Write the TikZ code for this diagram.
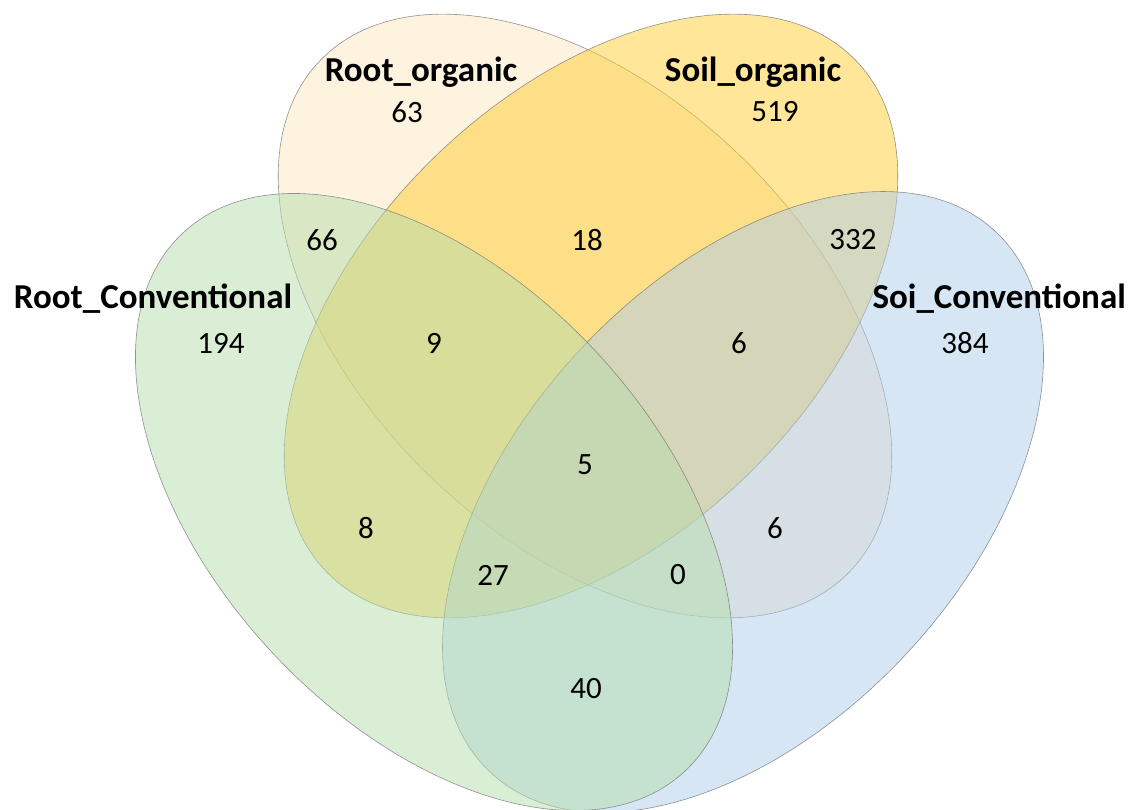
\documentclass[tikz,border=0pt]{standalone}
\usepackage{fontspec}
\setmainfont{Carlito}
\definecolor{peachC}{RGB}{251,231,189}
\definecolor{yellowC}{RGB}{255,205,51}
\definecolor{greenC}{RGB}{181,221,171}
\definecolor{blueC}{RGB}{173,205,235}
\definecolor{edgeC}{RGB}{120,120,120}
\tikzset{
  setshape/.style={fill=#1, fill opacity=0.5, draw=edgeC, draw opacity=0.8, line width=0.6pt},
  setlabel/.style={anchor=base, inner sep=0pt, font=\fontsize{35}{35}\selectfont\bfseries},
  count/.style={anchor=center, inner sep=0pt, font=\fontsize{31}{31}\selectfont}
}
\begin{document}
\begin{tikzpicture}[x=1pt,y=1pt]
\useasboundingbox (0,0) rectangle (1134,809);
\clip (0,0) rectangle (1134,809);
% ellipses (centres in y-up coordinates)
\draw[setshape=peachC, rotate around={-44:(585,493)}] (585,493) ellipse [x radius=368, y radius=223];
\draw[setshape=yellowC, rotate around={44:(591,493)}] (591,493) ellipse [x radius=368, y radius=223];
\draw[setshape=blueC, rotate around={47:(743,307)}] (743,307) ellipse [x radius=370, y radius=223];
\draw[setshape=greenC, rotate around={-47:(434,307)}] (434,307) ellipse [x radius=368, y radius=221];
% set labels
\node[setlabel] (lro) at (421,727) {Root\_organic};
\node[setlabel] (lso) at (753,727) {Soil\_organic};
\node[setlabel] (lrc) at (153,500) {Root\_Conventional};
\node[setlabel, anchor=base east] (lsc) at (1126,500) {Soi\_Conventional};
% counts
\node[count] (n63) at (407,697) {63};
\node[count] (n519) at (775,697) {519};
\node[count] (n66) at (322,569) {66};
\node[count] (n18) at (587,569) {18};
\node[count] (n332) at (853,569) {332};
\node[count] (n194) at (221,466) {194};
\node[count] (n9) at (434,466) {9};
\node[count] (n6a) at (739,466) {6};
\node[count] (n384) at (965,466) {384};
\node[count] (n5) at (585,344) {5};
\node[count] (n8) at (366,281) {8};
\node[count] (n6b) at (775,281) {6};
\node[count] (n27) at (493,234) {27};
\node[count] (n0) at (678,234) {0};
\node[count] (n40) at (586,120) {40};
\end{tikzpicture}
\end{document}
